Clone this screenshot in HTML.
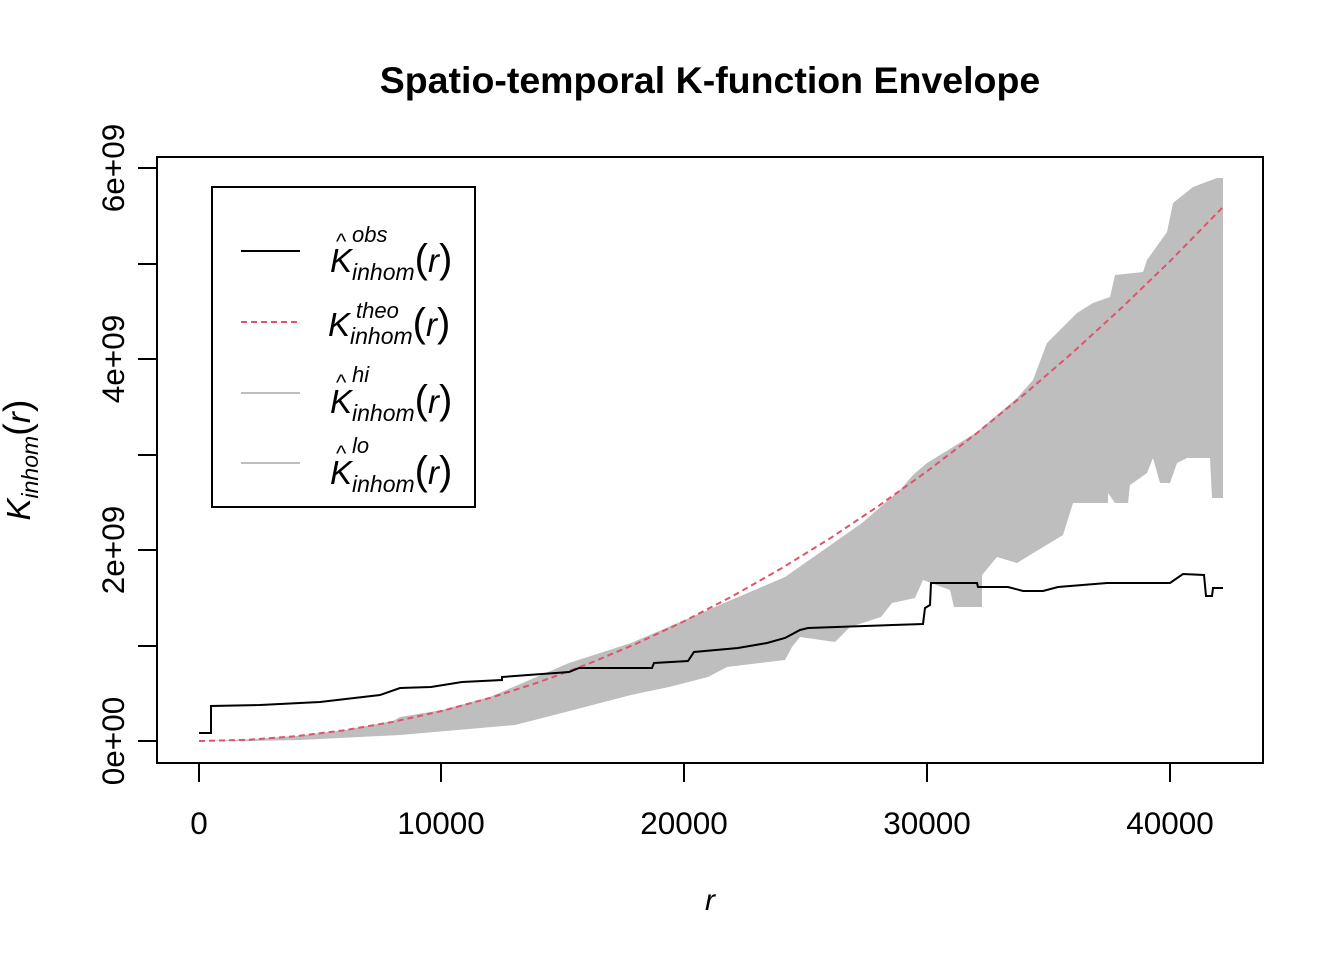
<!DOCTYPE html>
<html><head><meta charset="utf-8"><style>
body{margin:0;background:#fff}
svg text{font-family:"Liberation Sans",Arial,sans-serif}
</style></head><body>
<svg width="1344" height="960" viewBox="0 0 1344 960" xmlns="http://www.w3.org/2000/svg">
<rect width="1344" height="960" fill="#fff"/>
<text x="710" y="93" text-anchor="middle" font-size="37.5" font-weight="bold">Spatio-temporal K-function Envelope</text>
<polygon fill="#bebebe" points="
199,741 247,739.5 296,736 345,730 393,721 400,717 442,710 490,697 569,663 631,643 708,610 785,577 862,523 900,490 913,475 927,463 953,447 977,432 1017,398 1033,380 1047,343 1063,327 1077,313 1093,303 1110,297 1115,275 1143,272 1147,260 1167,232 1173,203 1183,195 1193,187 1217,178 1223,178
1223,498 1212,498 1210,458 1187,458 1177,463 1170,483 1160,483 1153,458 1147,473 1130,485 1128,503 1115,503 1108,493 1108,503 1073,503 1063,535 1030,555 1017,563 997,557 982,575 982,607 958,607 954,607 950,590 923,580 915,598 892,603 881,617 850,627 835,642 800,637 792,647 785,660 727,667 708,677 669,687 631,695 562,713 515,725 400,735 300,740 250,741"/>
<polyline fill="none" stroke="#df536b" stroke-width="2" stroke-dasharray="6,4" points="199,741 247.6,739.8 296.1,736.2 344.7,730.2 393.2,721.8 441.8,711 490.4,697.8 538.9,682.2 587.5,664.2 636,643.8 684.6,621 733.2,595.8 781.7,568.2 830.3,538.2 878.8,505.8 927.4,471 976,433.8 1024.5,394.2 1073.1,352.2 1121.6,307.8 1170.2,261 1222,208"/>
<polyline fill="none" stroke="#000" stroke-width="2" points="199,733 211,733 211,706 260,705 320,702 380,695 400,688 431,687 462,682 502,680 502,677 569,672 579,668 652,668 654,663 688,661 694,652 738,648 767,643 785,638 800,630 808,628 923,624 925,608 930,605 931,583 977,583 978,587 1008,587 1023,591 1043,591 1058,587 1107,583 1170,583 1183,574 1204,575 1206,596 1212,596 1213,588 1223,588"/>
<rect x="157" y="157" width="1106" height="606" fill="none" stroke="#000" stroke-width="2"/>
<g stroke="#000" stroke-width="2">
<line x1="199" y1="763" x2="1170" y2="763"/>
<line x1="199" y1="763" x2="199" y2="782"/><line x1="441" y1="763" x2="441" y2="782"/><line x1="684" y1="763" x2="684" y2="782"/><line x1="927" y1="763" x2="927" y2="782"/><line x1="1170" y1="763" x2="1170" y2="782"/>
<line x1="157" y1="168" x2="157" y2="741"/>
<line x1="138" y1="741" x2="157" y2="741"/><line x1="138" y1="646" x2="157" y2="646"/><line x1="138" y1="550" x2="157" y2="550"/><line x1="138" y1="455" x2="157" y2="455"/><line x1="138" y1="359" x2="157" y2="359"/><line x1="138" y1="264" x2="157" y2="264"/><line x1="138" y1="168" x2="157" y2="168"/>
</g>
<g font-size="31.5" text-anchor="middle">
<text x="199" y="834">0</text><text x="441" y="834">10000</text><text x="684" y="834">20000</text><text x="927" y="834">30000</text><text x="1170" y="834">40000</text>
<text transform="translate(124,741) rotate(-90)">0e+00</text>
<text transform="translate(124,550) rotate(-90)">2e+09</text>
<text transform="translate(124,359) rotate(-90)">4e+09</text>
<text transform="translate(124,168) rotate(-90)">6e+09</text>
</g>
<text x="710" y="910" font-size="30" font-style="italic" text-anchor="middle">r</text>
<text transform="translate(30,460) rotate(-90)" font-size="33" text-anchor="middle"><tspan font-style="italic">K</tspan><tspan font-size="23" font-style="italic" dy="8">inhom</tspan><tspan dy="-8" font-size="38">(</tspan><tspan font-style="italic">r</tspan><tspan font-size="38">)</tspan></text>
<rect x="212" y="187" width="263" height="320" fill="#fff" stroke="#000" stroke-width="2"/>
<line x1="241" y1="251" x2="300" y2="251" stroke="#000" stroke-width="2"/>
<line x1="241" y1="322" x2="300" y2="322" stroke="#df536b" stroke-width="2" stroke-dasharray="6,4"/>
<line x1="241" y1="393" x2="300" y2="393" stroke="#bebebe" stroke-width="2"/>
<line x1="241" y1="463" x2="300" y2="463" stroke="#bebebe" stroke-width="2"/>
<g font-size="33">
<text x="330" y="272"><tspan font-style="italic">K</tspan><tspan font-size="23" font-style="italic" dy="8">inhom</tspan><tspan dy="-8" font-size="40">(</tspan><tspan font-style="italic">r</tspan><tspan font-size="40">)</tspan></text>
<text x="336" y="249" font-size="22">^</text><text x="352" y="242" font-size="22" font-style="italic">obs</text>
<text x="328" y="336"><tspan font-style="italic">K</tspan><tspan font-size="23" font-style="italic" dy="8">inhom</tspan><tspan dy="-8" font-size="40">(</tspan><tspan font-style="italic">r</tspan><tspan font-size="40">)</tspan></text>
<text x="356" y="318" font-size="22" font-style="italic">theo</text>
<text x="330" y="413"><tspan font-style="italic">K</tspan><tspan font-size="23" font-style="italic" dy="8">inhom</tspan><tspan dy="-8" font-size="40">(</tspan><tspan font-style="italic">r</tspan><tspan font-size="40">)</tspan></text>
<text x="336" y="390" font-size="22">^</text><text x="352" y="382" font-size="22" font-style="italic">hi</text>
<text x="330" y="484"><tspan font-style="italic">K</tspan><tspan font-size="23" font-style="italic" dy="8">inhom</tspan><tspan dy="-8" font-size="40">(</tspan><tspan font-style="italic">r</tspan><tspan font-size="40">)</tspan></text>
<text x="336" y="461" font-size="22">^</text><text x="352" y="453" font-size="22" font-style="italic">lo</text>
</g>
</svg>
</body></html>
